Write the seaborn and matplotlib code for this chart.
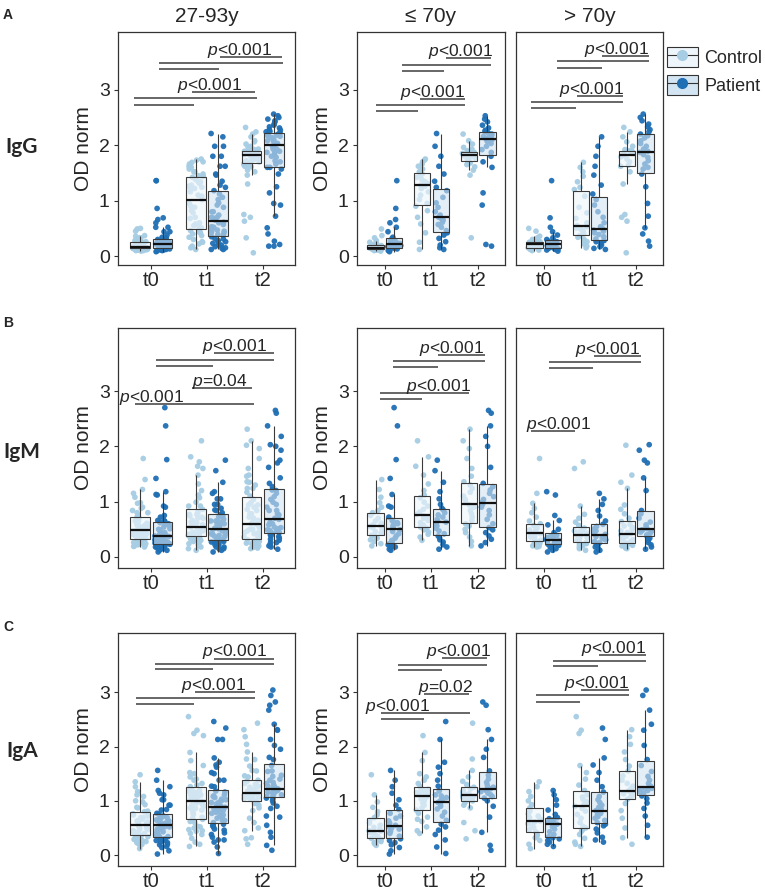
import numpy as np
import pandas as pd
import matplotlib
matplotlib.use("Agg")
import matplotlib.pyplot as plt
import seaborn as sns
from matplotlib.patches import Patch
from matplotlib.lines import Line2D

times = ["t0", "t1", "t2"]
groups = ["Control", "Patient"]
antibodies = ["IgG", "IgM", "IgA"]
col_titles = ["27-93y", "≤ 70y", "> 70y"]
age_groups = ["≤ 70y", "> 70y"]
panel_letters = ["A", "B", "C"]

# IgG, <=70y
igg_le70_t0_ctrl = [0.09, 0.10, 0.11, 0.11, 0.12, 0.12, 0.13, 0.13, 0.14, 0.14, 0.14, 0.15, 0.15, 0.15, 0.16, 0.16, 0.17, 0.17, 0.18, 0.19, 0.21, 0.23, 0.25, 0.28, 0.33, 0.37, 0.49]
igg_le70_t0_pat = [0.08, 0.10, 0.11, 0.12, 0.13, 0.14, 0.15, 0.16, 0.17, 0.18, 0.19, 0.20, 0.21, 0.22, 0.23, 0.24, 0.26, 0.28, 0.30, 0.32, 0.34, 0.44, 0.52, 0.60, 0.66, 0.86, 1.36]
igg_le70_t1_ctrl = [0.12, 0.25, 0.42, 0.58, 0.70, 0.82, 0.90, 0.95, 1.02, 1.10, 1.16, 1.22, 1.26, 1.28, 1.31, 1.34, 1.38, 1.42, 1.45, 1.48, 1.52, 1.57, 1.62, 1.66, 1.70, 1.73, 1.75]
igg_le70_t1_pat = [0.12, 0.15, 0.20, 0.26, 0.32, 0.38, 0.42, 0.46, 0.52, 0.57, 0.61, 0.65, 0.68, 0.70, 0.74, 0.80, 0.88, 0.96, 1.06, 1.18, 1.24, 1.35, 1.48, 1.62, 1.80, 1.98, 2.21]
igg_le70_t2_ctrl = [0.33, 1.46, 1.55, 1.61, 1.65, 1.68, 1.70, 1.72, 1.75, 1.77, 1.79, 1.81, 1.82, 1.83, 1.84, 1.85, 1.85, 1.86, 1.87, 1.87, 1.88, 1.90, 1.93, 1.96, 2.02, 2.08, 2.20]
igg_le70_t2_pat = [0.18, 0.21, 0.92, 1.14, 1.60, 1.70, 1.80, 1.87, 1.92, 1.98, 2.03, 2.07, 2.10, 2.12, 2.14, 2.16, 2.18, 2.20, 2.22, 2.25, 2.27, 2.31, 2.36, 2.42, 2.47, 2.53]
# IgG, >70y
igg_gt70_t0_ctrl = [0.10, 0.11, 0.12, 0.13, 0.14, 0.15, 0.15, 0.16, 0.17, 0.18, 0.19, 0.20, 0.21, 0.21, 0.22, 0.23, 0.24, 0.25, 0.26, 0.26, 0.28, 0.30, 0.33, 0.36, 0.45, 0.50]
igg_gt70_t0_pat = [0.09, 0.11, 0.12, 0.13, 0.14, 0.15, 0.15, 0.16, 0.18, 0.19, 0.20, 0.21, 0.22, 0.22, 0.23, 0.24, 0.25, 0.26, 0.27, 0.28, 0.30, 0.33, 0.38, 0.44, 0.52, 0.69, 1.36]
igg_gt70_t1_ctrl = [0.15, 0.18, 0.22, 0.26, 0.30, 0.34, 0.37, 0.40, 0.43, 0.46, 0.49, 0.51, 0.53, 0.55, 0.60, 0.68, 0.78, 0.88, 1.08, 1.20, 1.24, 1.34, 1.44, 1.52, 1.60, 1.69]
igg_gt70_t1_pat = [0.12, 0.14, 0.17, 0.20, 0.23, 0.26, 0.28, 0.31, 0.35, 0.39, 0.42, 0.45, 0.47, 0.49, 0.53, 0.60, 0.70, 0.80, 0.92, 1.02, 1.12, 1.28, 1.46, 1.62, 1.80, 1.98, 2.15]
igg_gt70_t2_ctrl = [0.06, 0.63, 0.70, 0.75, 1.30, 1.52, 1.62, 1.64, 1.70, 1.75, 1.79, 1.82, 1.83, 1.84, 1.86, 1.87, 1.88, 1.89, 1.90, 1.92, 1.98, 2.06, 2.15, 2.24, 2.32]
igg_gt70_t2_pat = [0.18, 0.27, 0.40, 0.51, 0.72, 0.95, 1.25, 1.48, 1.57, 1.60, 1.66, 1.72, 1.78, 1.83, 1.87, 1.89, 1.93, 1.98, 2.03, 2.08, 2.13, 2.17, 2.20, 2.24, 2.28, 2.33, 2.38, 2.44, 2.50, 2.56]
# IgM, <=70y
igm_le70_t0_ctrl = [0.20, 0.24, 0.28, 0.31, 0.34, 0.37, 0.39, 0.43, 0.46, 0.50, 0.53, 0.55, 0.56, 0.58, 0.61, 0.65, 0.70, 0.75, 0.80, 0.84, 0.90, 0.98, 1.08, 1.22, 1.40]
igm_le70_t0_pat = [0.12, 0.14, 0.16, 0.18, 0.20, 0.22, 0.24, 0.25, 0.27, 0.30, 0.34, 0.38, 0.42, 0.46, 0.49, 0.51, 0.54, 0.57, 0.60, 0.62, 0.64, 0.66, 0.72, 0.90, 0.92, 1.13, 1.42, 1.76, 2.37, 2.70]
igm_le70_t1_ctrl = [0.30, 0.36, 0.41, 0.45, 0.49, 0.52, 0.54, 0.58, 0.62, 0.66, 0.70, 0.72, 0.74, 0.77, 0.81, 0.86, 0.92, 0.99, 1.07, 1.12, 1.20, 1.32, 1.48, 1.64, 1.81, 2.10]
igm_le70_t1_pat = [0.14, 0.18, 0.22, 0.27, 0.31, 0.35, 0.38, 0.42, 0.47, 0.52, 0.56, 0.60, 0.63, 0.65, 0.68, 0.72, 0.76, 0.80, 0.85, 0.88, 0.95, 1.05, 1.18, 1.35, 1.56, 1.75]
igm_le70_t2_ctrl = [0.20, 0.28, 0.36, 0.44, 0.50, 0.56, 0.60, 0.66, 0.72, 0.78, 0.84, 0.90, 0.94, 0.98, 1.04, 1.10, 1.17, 1.24, 1.30, 1.36, 1.46, 1.60, 1.78, 1.96, 2.10, 2.31]
igm_le70_t2_pat = [0.20, 0.26, 0.32, 0.38, 0.44, 0.49, 0.53, 0.60, 0.68, 0.76, 0.84, 0.90, 0.95, 0.99, 1.04, 1.09, 1.15, 1.21, 1.27, 1.33, 1.62, 2.00, 2.18, 2.37, 2.60, 2.65]
# IgM, >70y
igm_gt70_t0_ctrl = [0.18, 0.19, 0.20, 0.22, 0.24, 0.25, 0.26, 0.28, 0.30, 0.33, 0.36, 0.39, 0.41, 0.42, 0.43, 0.45, 0.47, 0.49, 0.52, 0.55, 0.57, 0.60, 0.65, 0.72, 0.80, 0.88, 0.97, 1.15, 1.78]
igm_gt70_t0_pat = [0.09, 0.12, 0.15, 0.17, 0.19, 0.21, 0.23, 0.24, 0.26, 0.27, 0.29, 0.30, 0.31, 0.32, 0.33, 0.35, 0.37, 0.39, 0.40, 0.44, 0.50, 0.58, 0.66, 0.75, 1.12, 1.18]
igm_gt70_t1_ctrl = [0.12, 0.15, 0.18, 0.20, 0.22, 0.24, 0.26, 0.28, 0.30, 0.33, 0.35, 0.37, 0.39, 0.40, 0.41, 0.43, 0.45, 0.47, 0.48, 0.52, 0.57, 0.63, 0.70, 0.77, 0.92, 1.60, 1.72]
igm_gt70_t1_pat = [0.09, 0.12, 0.15, 0.18, 0.21, 0.24, 0.26, 0.28, 0.31, 0.33, 0.35, 0.37, 0.39, 0.41, 0.44, 0.47, 0.51, 0.55, 0.59, 0.65, 0.74, 0.84, 0.95, 1.05, 1.15]
igm_gt70_t2_ctrl = [0.15, 0.16, 0.17, 0.19, 0.20, 0.21, 0.23, 0.24, 0.25, 0.27, 0.28, 0.29, 0.31, 0.34, 0.37, 0.40, 0.42, 0.44, 0.47, 0.50, 0.53, 0.56, 0.59, 0.64, 0.70, 0.78, 0.86, 0.94, 1.24, 1.35, 1.48, 2.02]
igm_gt70_t2_pat = [0.14, 0.18, 0.22, 0.26, 0.30, 0.34, 0.37, 0.40, 0.43, 0.45, 0.47, 0.48, 0.49, 0.51, 0.54, 0.58, 0.63, 0.70, 0.78, 0.84, 1.20, 1.43, 1.70, 1.75, 1.93, 2.03]
# IgA, <=70y
iga_le70_t0_ctrl = [0.18, 0.21, 0.23, 0.25, 0.27, 0.29, 0.31, 0.34, 0.37, 0.40, 0.42, 0.44, 0.45, 0.48, 0.51, 0.55, 0.59, 0.64, 0.69, 0.74, 0.80, 0.88, 0.98, 1.11, 1.48]
iga_le70_t0_pat = [0.02, 0.08, 0.14, 0.19, 0.23, 0.27, 0.30, 0.35, 0.40, 0.44, 0.48, 0.50, 0.52, 0.55, 0.59, 0.63, 0.68, 0.72, 0.77, 0.84, 0.92, 1.02, 1.14, 1.26, 1.38, 1.56]
iga_le70_t1_ctrl = [0.40, 0.45, 0.52, 0.62, 0.66, 0.70, 0.77, 0.83, 0.87, 0.92, 0.96, 1.00, 1.04, 1.07, 1.09, 1.11, 1.13, 1.15, 1.17, 1.19, 1.21, 1.26, 1.32, 1.38, 1.44, 1.50, 1.74, 1.89, 2.20]
iga_le70_t1_pat = [0.03, 0.15, 0.28, 0.38, 0.46, 0.52, 0.57, 0.64, 0.72, 0.79, 0.85, 0.90, 0.94, 0.97, 1.00, 1.03, 1.06, 1.09, 1.11, 1.18, 1.27, 1.38, 1.50, 1.62, 1.71, 2.13, 2.46]
iga_le70_t2_ctrl = [0.30, 0.45, 0.60, 0.87, 0.92, 0.97, 1.00, 1.02, 1.04, 1.06, 1.08, 1.09, 1.10, 1.11, 1.13, 1.16, 1.19, 1.22, 1.25, 1.30, 1.36, 1.44, 1.56, 1.77, 2.43]
iga_le70_t2_pat = [0.09, 0.18, 0.42, 0.70, 0.90, 1.00, 1.05, 1.08, 1.11, 1.14, 1.17, 1.19, 1.20, 1.22, 1.25, 1.29, 1.34, 1.40, 1.47, 1.55, 1.80, 1.95, 2.13, 2.31, 2.76, 2.82]
# IgA, >70y
iga_gt70_t0_ctrl = [0.12, 0.20, 0.27, 0.32, 0.36, 0.40, 0.43, 0.47, 0.51, 0.55, 0.58, 0.61, 0.63, 0.66, 0.69, 0.72, 0.76, 0.81, 0.87, 0.93, 1.00, 1.08, 1.17, 1.26, 1.35]
iga_gt70_t0_pat = [0.16, 0.20, 0.24, 0.27, 0.30, 0.32, 0.34, 0.38, 0.43, 0.48, 0.52, 0.55, 0.57, 0.59, 0.61, 0.63, 0.65, 0.67, 0.69, 0.75, 0.83, 0.92, 1.02, 1.11, 1.19]
iga_gt70_t1_ctrl = [0.16, 0.20, 0.24, 0.31, 0.38, 0.44, 0.47, 0.50, 0.53, 0.60, 0.68, 0.75, 0.81, 0.86, 0.90, 0.93, 0.96, 0.99, 1.03, 1.07, 1.11, 1.19, 1.29, 1.40, 1.52, 1.65, 2.24, 2.30, 2.55]
iga_gt70_t1_pat = [0.24, 0.28, 0.33, 0.41, 0.48, 0.54, 0.57, 0.60, 0.64, 0.68, 0.71, 0.74, 0.77, 0.80, 0.82, 0.85, 0.88, 0.92, 0.97, 1.02, 1.08, 1.16, 1.26, 1.38, 1.52, 1.66, 1.79, 2.13, 2.34]
iga_gt70_t2_ctrl = [0.20, 0.32, 0.50, 0.68, 0.82, 0.95, 1.03, 1.07, 1.10, 1.13, 1.15, 1.17, 1.18, 1.22, 1.27, 1.32, 1.38, 1.46, 1.55, 1.64, 1.76, 1.90, 2.04, 2.18, 2.31]
iga_gt70_t2_pat = [0.33, 0.55, 0.72, 0.86, 0.96, 1.04, 1.09, 1.13, 1.16, 1.19, 1.21, 1.22, 1.23, 1.27, 1.32, 1.38, 1.45, 1.54, 1.65, 1.76, 2.02, 2.30, 2.41, 2.67, 2.94, 3.04]

# significance lines per panel: (x start, x end, y) and labels (x, y, text)
igg_all_lines = [(-0.31, 0.76, 2.73), (-0.31, 1.90, 2.85), (0.73, 1.87, 2.96), (0.13, 1.21, 3.37), (0.13, 2.36, 3.49), (1.24, 2.34, 3.59)]
igg_le70_lines = [(-0.19, 0.72, 2.62), (-0.19, 1.73, 2.72), (0.76, 1.72, 2.83), (0.36, 1.28, 3.34), (0.36, 2.27, 3.44), (1.32, 2.27, 3.57)]
igg_gt70_lines = [(-0.28, 0.69, 2.67), (-0.28, 1.72, 2.77), (0.72, 1.72, 2.89), (0.28, 1.25, 3.39), (0.28, 2.28, 3.51), (1.26, 2.28, 3.61)]
igm_all_lines = [(-0.30, 1.84, 2.76), (0.73, 1.81, 3.05), (0.08, 1.10, 3.45), (0.08, 2.21, 3.57), (1.12, 2.21, 3.68)]
igm_le70_lines = [(-0.10, 0.80, 2.85), (-0.10, 1.80, 2.96), (0.18, 1.13, 3.44), (0.18, 2.16, 3.55), (1.15, 2.16, 3.65)]
igm_gt70_lines = [(-0.27, 0.67, 2.28), (0.11, 1.07, 3.42), (0.11, 2.10, 3.53), (1.09, 2.10, 3.63)]
iga_all_lines = [(-0.28, 0.76, 2.78), (-0.28, 1.87, 2.90), (0.79, 1.87, 3.00), (0.06, 1.10, 3.42), (0.06, 2.20, 3.52), (1.12, 2.20, 3.62)]
iga_le70_lines = [(-0.09, 0.83, 2.50), (-0.09, 1.82, 2.61), (0.83, 1.80, 2.97), (0.29, 1.23, 3.40), (0.29, 2.20, 3.51), (1.23, 2.20, 3.63)]
iga_gt70_lines = [(-0.17, 0.79, 2.82), (-0.17, 1.84, 2.94), (0.81, 1.84, 3.04), (0.21, 1.18, 3.48), (0.21, 2.22, 3.57), (1.20, 2.22, 3.68)]

igg_all_labels = [(1.04, 2.96, "<0.001"), (1.58, 3.59, "<0.001")]
igg_le70_labels = [(1.03, 2.83, "<0.001"), (1.63, 3.57, "<0.001")]
igg_gt70_labels = [(1.04, 2.89, "<0.001"), (1.57, 3.61, "<0.001")]
igm_all_labels = [(0.01, 2.76, "<0.001"), (1.22, 3.05, "=0.04"), (1.50, 3.68, "<0.001")]
igm_le70_labels = [(1.15, 2.96, "<0.001"), (1.44, 3.65, "<0.001")]
igm_gt70_labels = [(0.31, 2.28, "<0.001"), (1.37, 3.63, "<0.001")]
iga_all_labels = [(1.12, 3.00, "<0.001"), (1.50, 3.62, "<0.001")]
iga_le70_labels = [(0.26, 2.61, "<0.001"), (1.30, 2.97, "=0.02"), (1.57, 3.63, "<0.001")]
iga_gt70_labels = [(1.13, 3.04, "<0.001"), (1.50, 3.68, "<0.001")]

series = [
    ("IgG", "≤ 70y", "t0", "Control", igg_le70_t0_ctrl), ("IgG", "≤ 70y", "t0", "Patient", igg_le70_t0_pat),
    ("IgG", "≤ 70y", "t1", "Control", igg_le70_t1_ctrl), ("IgG", "≤ 70y", "t1", "Patient", igg_le70_t1_pat),
    ("IgG", "≤ 70y", "t2", "Control", igg_le70_t2_ctrl), ("IgG", "≤ 70y", "t2", "Patient", igg_le70_t2_pat),
    ("IgG", "> 70y", "t0", "Control", igg_gt70_t0_ctrl), ("IgG", "> 70y", "t0", "Patient", igg_gt70_t0_pat),
    ("IgG", "> 70y", "t1", "Control", igg_gt70_t1_ctrl), ("IgG", "> 70y", "t1", "Patient", igg_gt70_t1_pat),
    ("IgG", "> 70y", "t2", "Control", igg_gt70_t2_ctrl), ("IgG", "> 70y", "t2", "Patient", igg_gt70_t2_pat),
    ("IgM", "≤ 70y", "t0", "Control", igm_le70_t0_ctrl), ("IgM", "≤ 70y", "t0", "Patient", igm_le70_t0_pat),
    ("IgM", "≤ 70y", "t1", "Control", igm_le70_t1_ctrl), ("IgM", "≤ 70y", "t1", "Patient", igm_le70_t1_pat),
    ("IgM", "≤ 70y", "t2", "Control", igm_le70_t2_ctrl), ("IgM", "≤ 70y", "t2", "Patient", igm_le70_t2_pat),
    ("IgM", "> 70y", "t0", "Control", igm_gt70_t0_ctrl), ("IgM", "> 70y", "t0", "Patient", igm_gt70_t0_pat),
    ("IgM", "> 70y", "t1", "Control", igm_gt70_t1_ctrl), ("IgM", "> 70y", "t1", "Patient", igm_gt70_t1_pat),
    ("IgM", "> 70y", "t2", "Control", igm_gt70_t2_ctrl), ("IgM", "> 70y", "t2", "Patient", igm_gt70_t2_pat),
    ("IgA", "≤ 70y", "t0", "Control", iga_le70_t0_ctrl), ("IgA", "≤ 70y", "t0", "Patient", iga_le70_t0_pat),
    ("IgA", "≤ 70y", "t1", "Control", iga_le70_t1_ctrl), ("IgA", "≤ 70y", "t1", "Patient", iga_le70_t1_pat),
    ("IgA", "≤ 70y", "t2", "Control", iga_le70_t2_ctrl), ("IgA", "≤ 70y", "t2", "Patient", iga_le70_t2_pat),
    ("IgA", "> 70y", "t0", "Control", iga_gt70_t0_ctrl), ("IgA", "> 70y", "t0", "Patient", iga_gt70_t0_pat),
    ("IgA", "> 70y", "t1", "Control", iga_gt70_t1_ctrl), ("IgA", "> 70y", "t1", "Patient", iga_gt70_t1_pat),
    ("IgA", "> 70y", "t2", "Control", iga_gt70_t2_ctrl), ("IgA", "> 70y", "t2", "Patient", iga_gt70_t2_pat),
]
rows = []
for ab, age, t, g, vals in series:
    for v in vals:
        rows.append({"ab": ab, "age": age, "time": t, "group": g, "value": v})
df = pd.DataFrame(rows)

panel_lines = [[igg_all_lines, igg_le70_lines, igg_gt70_lines],
               [igm_all_lines, igm_le70_lines, igm_gt70_lines],
               [iga_all_lines, iga_le70_lines, iga_gt70_lines]]
panel_labels = [[igg_all_labels, igg_le70_labels, igg_gt70_labels],
                [igm_all_labels, igm_le70_labels, igm_gt70_labels],
                [iga_all_labels, iga_le70_labels, iga_gt70_labels]]

point_colors = {"Control": "#a6cde4", "Patient": "#1f6fb4"}
fill_colors = {"Control": "#eef5fb", "Patient": "#d3e4f2"}

sns.set_style("ticks")
plt.rcParams["font.family"] = ["Liberation Sans", "DejaVu Sans"]
plt.rcParams["mathtext.fontset"] = "custom"
plt.rcParams["mathtext.it"] = "Liberation Sans:italic"
plt.rcParams["mathtext.rm"] = "Liberation Sans"

W, H = 765, 894
fig = plt.figure(figsize=(W / 100, H / 100), dpi=100)
col_left = [118, 357, 516]
col_width = [177, 148, 147]
row_top = [32, 328, 633]
row_bottom = [265, 568, 866]
row_ylim = [(-0.16, 4.04), (-0.2, 4.14), (-0.2, 4.09)]

np.random.seed(3)
for r, ab in enumerate(antibodies):
    for c in range(3):
        ax = fig.add_axes([col_left[c] / W, 1 - row_bottom[r] / H,
                           col_width[c] / W, (row_bottom[r] - row_top[r]) / H])
        if c == 0:
            d = df[df["ab"] == ab]
        else:
            d = df[(df["ab"] == ab) & (df["age"] == age_groups[c - 1])]
        sns.stripplot(data=d, x="time", y="value", hue="group", order=times, hue_order=groups,
                      palette=point_colors, dodge=True, jitter=0.28, size=4.1, linewidth=0,
                      alpha=0.95, legend=False, ax=ax)
        sns.boxplot(data=d, x="time", y="value", hue="group", order=times, hue_order=groups,
                    palette=fill_colors, saturation=1, width=0.8, gap=0.12, showfliers=False,
                    showcaps=False, linecolor="#3a3a3a", linewidth=0.8,
                    boxprops={"zorder": 3}, whiskerprops={"zorder": 3},
                    medianprops={"color": "#111111", "linewidth": 1.6, "zorder": 4},
                    legend=False, ax=ax)
        for p in ax.patches:
            fc = p.get_facecolor()
            p.set_facecolor((fc[0], fc[1], fc[2], 0.6))

        for x0, x1, y in panel_lines[r][c]:
            ax.plot([x0, x1], [y, y], color="#4d4d4d", lw=1.2, solid_capstyle="butt", zorder=5)
        for x, y, txt in panel_labels[r][c]:
            ax.text(x, y + 0.04, "$p$" + txt, ha="center", va="baseline", fontsize=12.5, zorder=6)

        ax.set_xlim(-0.6, 2.58)
        ax.set_ylim(*row_ylim[r])
        ax.set_xlabel("")
        ax.set_yticks([0, 1, 2, 3])
        ax.tick_params(axis="x", labelsize=14.5, length=3, width=0.8, color="#333333", pad=1)
        ax.tick_params(axis="y", labelsize=14, length=3, width=0.8, color="#333333", pad=3)
        for s in ax.spines.values():
            s.set_color("#333333")
            s.set_linewidth(0.9)
        if c == 2:
            ax.set_yticks([])
            ax.set_ylabel("")
        else:
            ax.set_ylabel("OD norm", fontsize=15, labelpad=4)

for c, title in enumerate(col_titles):
    fig.text((col_left[c] + col_width[c] / 2) / W, 1 - 17 / H, title, ha="center", va="center", fontsize=15)

row_label_y = [147, 452, 751]
letter_y = [15, 323, 627]
for r, ab in enumerate(antibodies):
    fig.text(22 / W, 1 - row_label_y[r] / H, ab, ha="center", va="center", fontsize=15,
             fontweight="bold", family=["Lato", "DejaVu Sans"])
    fig.text(3 / W, 1 - letter_y[r] / H, panel_letters[r], ha="left", va="center", fontsize=10,
             fontweight="bold")

handles = []
for g in groups:
    box = Patch(facecolor=fill_colors[g], edgecolor="#333333", linewidth=0.8)
    dot = Line2D([0], [0], color="#333333", lw=0.8, marker="o", markersize=7,
                 markerfacecolor=point_colors[g], markeredgecolor=point_colors[g])
    handles.append((box, dot))
fig.legend(handles, groups, loc="center left", bbox_to_anchor=(667 / W, 1 - 71 / H),
           frameon=False, fontsize=13, handlelength=1.7, handleheight=1.3,
           labelspacing=0.45, handletextpad=0.35, borderpad=0, borderaxespad=0)

fig.savefig("out.png", dpi=100)
